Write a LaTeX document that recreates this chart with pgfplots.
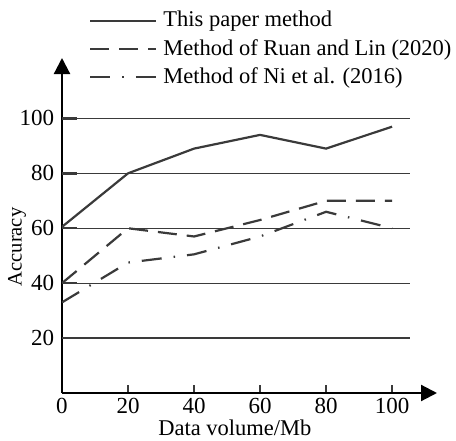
\documentclass[border=0pt]{standalone}
\usepackage{fontspec}
\setmainfont{Liberation Serif}
\usepackage{pgfplots}
\pgfplotsset{compat=1.18}
\usetikzlibrary{arrows.meta}
\definecolor{ln}{HTML}{3A3A3A}

\begin{document}
\fontsize{23}{27}\selectfont
\begin{tikzpicture}
\useasboundingbox (-62pt,-47pt) rectangle (394pt,393pt);
\begin{axis}[
  at={(0,0)}, anchor=south west,
  scale only axis,
  width=375pt, height=335pt,
  xmin=0, xmax=113.6,
  ymin=0, ymax=122,
  axis lines=left,
  axis line style={line width=2.2pt, -{Triangle[width=16pt,length=16pt]}},
  xtick={0,20,...,100},
  ytick={20,40,...,100},
  tick align=inside,
  major tick length=8pt,
  xtick style={line width=2.5pt, color=ln},
  ytick style={draw=none},
  tick label style={font=\fontsize{23}{27}\selectfont},
  xticklabel style={yshift=2.5pt},
  /pgf/number format/assume math mode=true,
  xlabel={Data volume/Mb},
  ylabel={Accuracy},
  xlabel style={at={(axis description cs:0.461,0)}, anchor=center, yshift=-34.5pt, inner sep=0pt, font=\fontsize{22.5}{26}\selectfont},
  ylabel style={at={(axis description cs:-0.12,0.436)}, anchor=center, font=\fontsize{20.5}{24}\selectfont},
  legend style={draw=none, fill=none, inner sep=0pt,
    at={(axis description cs:0.072,1.140)}, anchor=north west,
    nodes={inner sep=0pt}, row sep=9pt, column sep=6pt,
    cells={anchor=west}, font=\fontsize{22.5}{26}\selectfont},
  legend image code/.code={\draw[#1] (0pt,0pt) -- (66pt,0pt);},
]
% grid lines and y ticks
\pgfplotsinvokeforeach{20,40,60,80,100}{
  \draw[line width=1.2pt, color=ln] (axis cs:0,#1) -- (axis cs:105.5,#1);
  \draw[line width=2.5pt, color=ln] (axis cs:0,#1) -- (axis cs:4.5,#1);
}

\addplot[ln, line width=2.2pt] coordinates {
  (0,60.5) (20,80) (40,89) (60,94) (80,89) (100,97)
};
\addlegendentry{This paper method}

\addplot[ln, line width=2.2pt, dash pattern=on 19pt off 10pt] coordinates {
  (0,40) (20,60) (40,57) (60,63) (80,70) (100,70)
};
\addlegendentry{Method of Ruan and Lin (2020)}

\addplot[ln, line width=2.2pt, dash pattern=on 20pt off 12pt on 1.5pt off 12pt] coordinates {
  (0,33) (20,47.5) (40,50.5) (60,57) (80,66) (100,60)
};
\addlegendentry{Method of Ni et al. (2016)}
\end{axis}
\end{tikzpicture}
\end{document}
